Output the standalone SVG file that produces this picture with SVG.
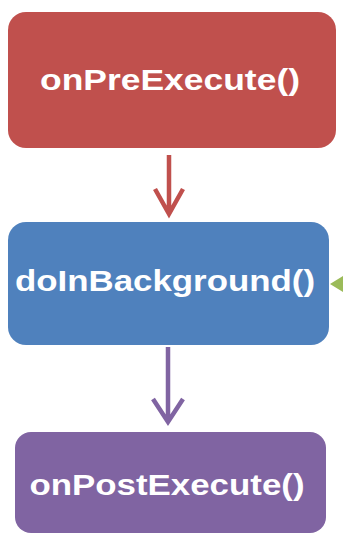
<svg xmlns="http://www.w3.org/2000/svg" width="343" height="535" viewBox="0 0 343 535">
<style>
.lbl{font-family:"Liberation Sans",Arial,sans-serif;font-weight:bold;font-size:30px;fill:#ffffff;text-anchor:middle}
.arr{fill:none;stroke-width:4.5;stroke-linecap:butt;stroke-linejoin:miter}
</style>
<rect width="343" height="535" fill="#ffffff"/>
<g id="onPreExecute">
<rect x="8" y="12" width="328" height="136" rx="18" fill="#C0504D"/>
<text class="lbl" x="170" y="90" textLength="260" lengthAdjust="spacingAndGlyphs">onPreExecute()</text>
</g>
<g id="doInBackground">
<rect x="8" y="222" width="321" height="123" rx="18" fill="#4F81BD"/>
<text class="lbl" x="165" y="291" textLength="300" lengthAdjust="spacingAndGlyphs">doInBackground()</text>
</g>
<g id="onPostExecute">
<rect x="15" y="432" width="311" height="101" rx="16" fill="#8064A2"/>
<text class="lbl" x="167" y="495" textLength="275" lengthAdjust="spacingAndGlyphs">onPostExecute()</text>
</g>
<g id="connectors">
<path class="arr" stroke="#C0504D" d="M169 155 V214 M155 189 L169 214 L183 189"/>
<path class="arr" stroke="#8064A2" d="M168 347 V422 M153 399 L168 422 L183 399"/>
<path fill="#9BBB59" d="M330 284 L343 276 L343 292 Z"/>
</g>
</svg>
